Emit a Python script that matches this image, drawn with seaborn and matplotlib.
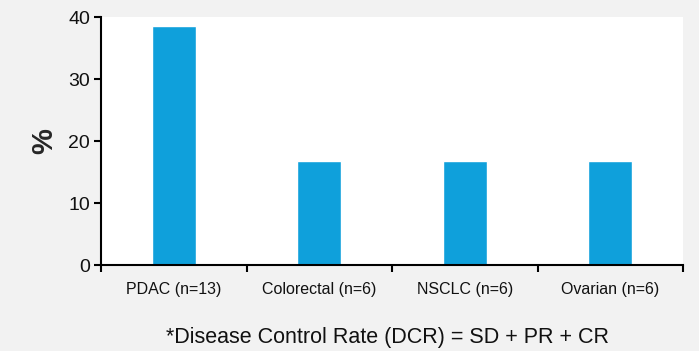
import matplotlib
matplotlib.use("Agg")
import matplotlib.pyplot as plt
import seaborn as sns
import pandas as pd
import numpy as np

categories = ["PDAC (n=13)", "Colorectal (n=6)", "NSCLC (n=6)", "Ovarian (n=6)"]
values = [38.5, 16.7, 16.7, 16.7]
y_ticks = [0, 10, 20, 30, 40]
y_label = "%"
caption = "*Disease Control Rate (DCR) = SD + PR + CR"

sns.set_style("white")
plt.rcParams['font.family'] = ['Liberation Sans', 'DejaVu Sans']

df = pd.DataFrame({"cat": categories, "val": values})

fig = plt.figure(figsize=(6.99, 3.51), dpi=100, facecolor="#f2f2f2")
ax = fig.add_axes([101/699, 1-265/351, (683-101)/699, (265-17)/351])
ax.set_facecolor("white")
sns.barplot(data=df, x="cat", y="val", color="#0fa0db", width=0.3, saturation=1, ax=ax)

ax.set_xlim(-0.5, len(categories)-0.5)
ax.set_ylim(0, 40)
ax.set_yticks(y_ticks)
ax.set_xticks(range(len(categories)))
ax.set_xticklabels(categories, fontsize=11.5, color="#111111")
ax.set_xticks(np.arange(-0.5, len(categories), 1.0), minor=True)
ax.tick_params(axis="x", which="major", length=0, pad=12)
ax.tick_params(axis="x", which="minor", length=5, width=1.5, direction="out", color="black", bottom=True)
ax.tick_params(axis="y", length=5, width=1.5, direction="out", color="black", left=True, labelsize=14, labelcolor="#111111", pad=3)
for s in ["top", "right"]:
    ax.spines[s].set_visible(False)
for s in ["left", "bottom"]:
    ax.spines[s].set_color("black")
    ax.spines[s].set_linewidth(1.5)
ax.set_xlabel("")
ax.set_ylabel(y_label, fontsize=21, fontweight="bold", labelpad=7)

fig.text(388/699, 1-338/351, caption, ha="center", va="center", fontsize=15.5, color="#111111")

fig.savefig("out.png", dpi=100, facecolor=fig.get_facecolor())
